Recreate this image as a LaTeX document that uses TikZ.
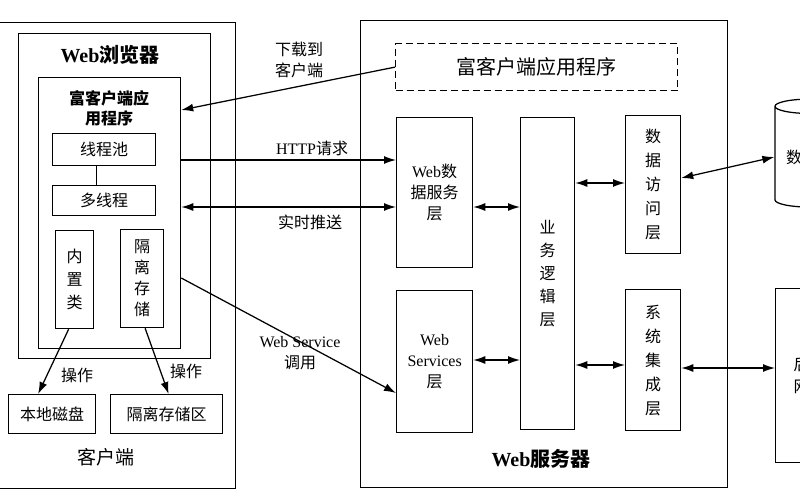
\documentclass[tikz,border=0pt]{standalone}
\usepackage{fontspec}
\setmainfont{Noto Sans CJK SC}
\newfontfamily\lat{Liberation Serif}
\usetikzlibrary{arrows.meta,shapes.geometric}
\begin{document}
\begin{tikzpicture}[x=1pt,y=-1pt,
 box/.style={draw, line width=1.25pt, inner sep=0pt, anchor=north west, align=center, font=\fontsize{16}{22}\selectfont},
 vbox/.style={box, font=\fontsize{16}{23}\selectfont},
 lbl/.style={inner sep=0pt, align=center, font=\fontsize{16}{21}\selectfont},
 title/.style={inner sep=0pt, align=center, font=\fontsize{20}{24}\selectfont\bfseries},
 arr/.style={line width=1.25pt, -{Latex[length=12pt,width=8pt]}},
 darr/.style={line width=1.25pt, {Latex[length=12pt,width=8pt]}-{Latex[length=12pt,width=8pt]}},
]
\useasboundingbox (0,0) rectangle (800,500);
\clip (0,0) rectangle (800,500);
\fill[white] (0,0) rectangle (800,500);

% client side
\node[box, minimum width=240pt, minimum height=466pt] (client) at (-5,22) {};
\node[box, minimum width=192pt, minimum height=325pt] (browser) at (18,33) {};
\node[box, minimum width=142pt, minimum height=271pt] (rca) at (38,77) {};
\node[title] (browsert) at (110,55) {{\lat\bfseries Web}浏览器};
\node[lbl, font=\fontsize{16}{20}\selectfont\bfseries] (rcat) at (109,108) {富客户端应\\用程序};
\node[box, minimum width=103pt, minimum height=32pt] (pool) at (52,133) {线程池};
\node[box, minimum width=103pt, minimum height=30pt] (mt) at (52,185) {多线程};
\node[vbox, minimum width=38pt, minimum height=98pt] (builtin) at (55,230) {内\\置\\类};
\node[vbox, font=\fontsize{16}{21}\selectfont, minimum width=43pt, minimum height=98pt] (iso) at (120,229) {隔\\离\\存\\储};
\node[box, minimum width=87pt, minimum height=39pt] (disk) at (8,394) {本地磁盘};
\node[box, minimum width=112pt, minimum height=39pt] (isoarea) at (110,394) {隔离存储区};
\node[lbl, font=\fontsize{19}{22}\selectfont] (clientt) at (106,457) {客户端};
\node[lbl] (op1) at (77,375) {操作};
\node[lbl] (op2) at (186,371) {操作};

\draw[line width=1.25pt] ([xshift=-8pt]pool.south) -- ([xshift=-8pt]mt.north);
\draw[arr] ([xshift=-6pt]builtin.south) -- ([xshift=-14pt]disk.north);
\draw[arr] ([xshift=3pt]iso.south) -- ([xshift=2pt]isoarea.north);

% server side
\node[box, minimum width=367pt, minimum height=467pt] (server) at (360,20) {};
\node[box, dash pattern=on 7pt off 4pt, minimum width=282pt, minimum height=47pt, font=\fontsize{20}{24}\selectfont] (dash) at (395,43) {富客户端应用程序};
\node[box, minimum width=76pt, minimum height=150pt, font=\fontsize{16}{21}\selectfont] (wds) at (396,117) {{\lat Web}数\\据服务\\层};
\node[box, minimum width=76pt, minimum height=142pt, font=\fontsize{16}{21}\selectfont] (ws) at (396,290) {{\lat Web}\\{\lat Services}\\层};
\node[vbox, minimum width=54pt, minimum height=312pt] (biz) at (520,117) {业\\务\\逻\\辑\\层};
\node[box, font=\fontsize{16}{24}\selectfont, minimum width=55pt, minimum height=138pt] (dal) at (625,115) {数\\据\\访\\问\\层};
\node[box, font=\fontsize{16}{24}\selectfont, minimum width=55pt, minimum height=141pt] (sys) at (625,289) {系\\统\\集\\成\\层};
\node[title] (servert) at (541,459) {{\lat\bfseries Web}服务器};

% external
\node[cylinder, draw, line width=1.25pt, shape border rotate=90, aspect=0.3, minimum width=70pt, minimum height=108pt, inner sep=0pt, font=\fontsize{16}{20}\selectfont] (db) at (810,157) {数据库};
\node[box, minimum width=68pt, minimum height=174pt] (ext) at (775,288) {后端\\网络};

% connectors
\draw[arr] (dash.west) -- (rca.east |- 0,110);
\draw[arr] (rca.east |- 0,160) -- (wds.west |- 0,160);
\draw[darr] (rca.east |- 0,207) -- (wds.west |- 0,207);
\draw[arr] (rca.east |- 0,278) -- (ws.west |- 0,393);
\draw[darr] (wds.east |- 0,207) -- (biz.west |- 0,207);
\draw[darr] (ws.east |- 0,360) -- (biz.west |- 0,360);
\draw[darr] (biz.east |- 0,183) -- (dal.west |- 0,183);
\draw[darr] (biz.east |- 0,365) -- (sys.west |- 0,365);
\draw[darr] (dal.east |- 0,178) -- (db.west);
\draw[darr] (sys.east |- 0,368) -- (ext.west |- 0,368);

% connector labels
\node[lbl] (dl) at (299,60) {下载到\\客户端};
\node[lbl] (http) at (312,148) {{\lat HTTP}请求};
\node[lbl] (push) at (310,222) {实时推送};
\node[lbl] (wsc) at (300,353) {{\lat Web Service}\\调用};
\end{tikzpicture}
\end{document}
